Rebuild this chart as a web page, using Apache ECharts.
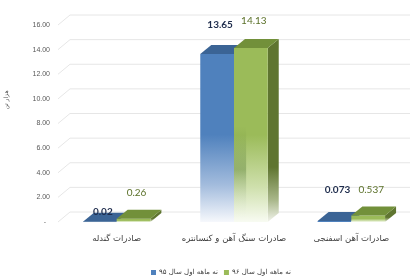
<!DOCTYPE html>
<html><head><meta charset="utf-8">
<script src="https://cdn.jsdelivr.net/npm/echarts@6/dist/echarts.min.js"></script>
<style>html,body{margin:0;padding:0;background:#fff}#c{width:410px;height:277px}</style>
</head><body><div id="c"></div>
<script>
// ---- data ----
const categories = ['صادرات گندله', 'صادرات سنگ آهن و کنسانتره', 'صادرات آهن اسفنجی'];
const seriesNames = ['نه ماهه اول سال ۹۵', 'نه ماهه اول سال ۹۶'];
const values95 = [0.02, 13.65, 0.073];
const values96 = [0.26, 14.13, 0.537];
const valueLabels95 = ['0.02', '13.65', '0.073'];
const valueLabels96 = ['0.26', '14.13', '0.537'];
const yTicks = [0, 2, 4, 6, 8, 10, 12, 14, 16];
const yAxisTitle = 'هزار تن';

// ---- styling (pixel nudges for the manually placed labels) ----
const labelLift = [[1, 20, 22], [17, 18, 17]];
const DX = 11, DY = -9;      // bar depth
const WX = 12, WY = -10;     // wall depth

const palettes = [
  { front: ['#4f81bd', '#4f81bd', '#a3bcdd', '#f6f8fc'], fs: [0, 0.48, 0.78, 1],
    side: ['#385d8a', '#385d8a', '#b5c5dc', '#f3f6fa'], top: '#3b6495', label: '#1f2d4d', bold: 'bold' },
  { front: ['#9bbb59', '#9bbb59', '#cfe0ad', '#f8fbf2'], fs: [0, 0.5, 0.8, 1],
    side: ['#5f7530', '#5f7530', '#a9b78a', '#f2f4ec'], top: '#72903a', label: '#5a7028', bold: 'normal' }
];

function grad(colors, stops) {
  return { type: 'linear', x: 0, y: 0, x2: 0, y2: 1,
    colorStops: colors.map((c, i) => ({ offset: stops[i], color: c })) };
}

function barRenderer(idx, labels) {
  const pal = palettes[idx];
  return function (params, api) {
    const ci = api.value(0), v = api.value(1);
    const top = api.coord([ci, v]);
    const base = api.coord([ci, 0]);
    const band = api.size([1, 0])[0];
    const w = band * 0.2875;
    const x0 = top[0] + (idx === 0 ? -w : 0);
    const x1 = x0 + w;
    const yT = top[1], yB = base[1];
    const h = Math.max(yB - yT, 0.6);
    const sideStops = idx === 1 ? [0, 0.7, 0.88, 1] : pal.fs;
    const children = [
      { type: 'polygon', shape: { points: [[x1, yT], [x1 + DX, yT + DY], [x1 + DX, yB + DY], [x1, yB]] },
        style: { fill: grad(pal.side, sideStops) } },
      { type: 'rect', shape: { x: x0, y: yT, width: w, height: h },
        style: { fill: grad(pal.front, pal.fs) } }
    ];
    if (idx === 1 && h > 30) {
      children.push({ type: 'rect', shape: { x: x0, y: yT, width: w * 0.36, height: h },
        style: { fill: grad(['rgba(70,110,40,0)', 'rgba(70,110,40,0)', 'rgba(70,110,40,0.35)', 'rgba(255,255,255,0)'],
          [0, 0.45, 0.7, 1]) } });
    }
    children.push(
      { type: 'polygon', shape: { points: [[x0, yT], [x1, yT], [x1 + DX, yT + DY], [x0 + DX, yT + DY]] },
        style: { fill: pal.top } },
      { type: 'text', x: x0 + w / 2 + 3, y: yT + DY - labelLift[idx][params.dataIndex],
        style: { text: labels[params.dataIndex], fill: pal.label, fontFamily: 'Lato', fontSize: 10,
          fontWeight: pal.bold, align: 'center', verticalAlign: 'middle' }, z2: 10 }
    );
    return { type: 'group', children: children };
  };
}

function gridRenderer(params, api) {
  const v = api.value(1);
  const p = api.coord([0, v]);
  const band = api.size([1, 0])[0];
  const xL = p[0] - band / 2;
  const xR = params.coordSys.x + params.coordSys.width + 30;
  return { type: 'polyline',
    shape: { points: [[xL, p[1]], [xL + WX, p[1] + WY], [xR, p[1] + WY]] },
    style: { stroke: '#e6e6e6', lineWidth: 1, fill: null } };
}

const chart = echarts.init(document.getElementById('c'), null, { renderer: 'canvas' });
chart.setOption({
  animation: false,
  color: ['#4f81bd', '#9bbb59'],
  grid: { left: 58, top: 25, width: 360, height: 197, containLabel: false },
  xAxis: { type: 'category', data: categories,
    axisLine: { show: false }, axisTick: { show: false },
    axisLabel: { margin: 12, fontFamily: 'DejaVu Sans', fontSize: 8.5, color: '#404040', interval: 0 } },
  yAxis: { type: 'value', min: 0, max: 16, interval: 2,
    axisLine: { show: false }, axisTick: { show: false }, splitLine: { show: false },
    axisLabel: { margin: 8, fontFamily: 'Liberation Sans', fontSize: 7, color: '#595959',
      formatter: v => (v === 0 ? '-  ' : v.toFixed(2)) } },
  legend: { left: 146, top: 264, icon: 'rect', itemWidth: 5, itemHeight: 5, itemGap: 6,
    data: seriesNames, selectedMode: false,
    textStyle: { fontFamily: 'DejaVu Sans', fontSize: 7, color: '#404040', padding: [0, 0, 0, -2] } },
  graphic: [{ type: 'text', x: 6, y: 100, rotation: Math.PI / 2,
    style: { text: yAxisTitle, fontFamily: 'DejaVu Sans', fontSize: 6, fill: '#595959',
      align: 'center', verticalAlign: 'middle' } }],
  series: [
    { type: 'custom', name: 'grid', silent: true, z: 1, renderItem: gridRenderer,
      data: yTicks.map(t => [0, t]), encode: { x: 0, y: 1 } },
    { type: 'custom', name: seriesNames[0], silent: true, z: 2, renderItem: barRenderer(0, valueLabels95),
      itemStyle: { color: '#4f81bd' },
      data: values95.map((v, i) => [i, v]), encode: { x: 0, y: 1 } },
    { type: 'custom', name: seriesNames[1], silent: true, z: 3, renderItem: barRenderer(1, valueLabels96),
      itemStyle: { color: '#9bbb59' },
      data: values96.map((v, i) => [i, v]), encode: { x: 0, y: 1 } }
  ]
});
</script></body></html>
